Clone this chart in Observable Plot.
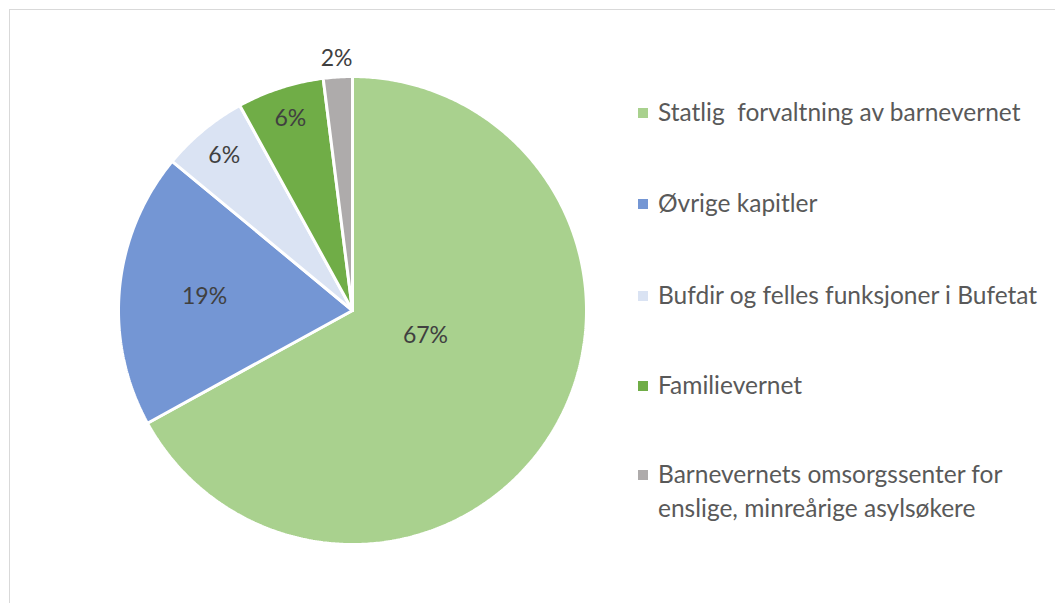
<!DOCTYPE html>
<html>
<head>
<meta charset="utf-8">
<script src="https://cdn.jsdelivr.net/npm/d3@7"></script>
<script src="https://cdn.jsdelivr.net/npm/@observablehq/plot@0.6"></script>
<style>
  html, body { margin: 0; padding: 0; background: #fff; }
  #frame { position: relative; width: 1055px; height: 603px; overflow: hidden; font-family: Lato, "Open Sans", sans-serif; }
  #border { position: absolute; left: 9px; top: 9px; width: 1100px; height: 700px; border-left: 1px solid #D9D9D9; border-top: 1px solid #D9D9D9; }
  #chart { position: absolute; left: 0; top: 0; }
  #legend { position: absolute; left: 638px; top: 0; color: #595959; font-size: 24.5px; }
  .item { position: absolute; left: 0; display: flex; align-items: flex-start; white-space: nowrap; }
  .sw { width: 10px; height: 10px; margin-top: 13px; margin-right: 10px; flex: none; }
  .lab { line-height: 34px; margin-top: 0; white-space: pre; }
</style>
</head>
<body>
<div id="frame">
  <div id="border"></div>
  <div id="chart"></div>
  <div id="legend"></div>
</div>
<script>
const categories = [
  "Statlig  forvaltning av barnevernet",
  "Øvrige kapitler",
  "Bufdir og felles funksjoner i Bufetat",
  "Familievernet",
  "Barnevernets omsorgssenter for\nenslige, minreårige asylsøkere"
];
const shares = [67, 19, 6, 6, 2];
const valueLabels = ["67%", "19%", "6%", "6%", "2%"];
const colors = ["#A9D18E", "#7496D4", "#DAE3F3", "#70AD47", "#AEABAB"];

const pie = d3.pie().sort(null).value(d => d.share)(
  categories.map((name, i) => ({name, share: shares[i], label: valueLabels[i]}))
);

// slice outlines in unit-circle space (y up, clockwise from 12 o'clock)
const polys = [];
pie.forEach(s => {
  polys.push({name: s.data.name, x: 0, y: 0});
  const n = Math.max(2, Math.ceil((s.endAngle - s.startAngle) / (Math.PI / 360)));
  for (let k = 0; k <= n; k++) {
    const a = s.startAngle + (s.endAngle - s.startAngle) * k / n;
    polys.push({name: s.data.name, x: Math.sin(a), y: Math.cos(a)});
  }
  polys.push({name: s.data.name, x: 0, y: 0});
});

function labelRadius(share) {
  if (share > 50) return 0.33;
  if (share > 10) return 0.635;
  if (share > 3) return 0.86;
  return 1.08;
}
function labelAngleShift(share) {
  return share > 50 ? -0.2 : 0;
}
const labelPts = pie.map(s => {
  const a = (s.startAngle + s.endAngle) / 2 + labelAngleShift(s.data.share);
  const r = labelRadius(s.data.share);
  return {label: s.data.label, x: r * Math.sin(a), y: r * Math.cos(a)};
});

const cx = 352, cy = 310, R = 234;
const chart = Plot.plot({
  width: 620,
  height: 603,
  margin: 0,
  x: {domain: [-1, 1], range: [cx - R, cx + R], axis: null},
  y: {domain: [-1, 1], range: [cy + R, cy - R], axis: null},
  color: {domain: categories, range: colors},
  style: {background: "transparent", fontFamily: "Lato, 'Open Sans', sans-serif"},
  marks: [
    Plot.line(polys, {x: "x", y: "y", z: "name", fill: "name", stroke: "white", strokeWidth: 3, strokeLinejoin: "miter", curve: "linear"}),
    Plot.text(labelPts, {x: "x", y: "y", text: "label", fontSize: 23, fill: "#404040"})
  ]
});
document.getElementById("chart").appendChild(chart);

const legendTops = [112, 203, 295, 385, 474];
const legend = document.getElementById("legend");
categories.forEach((name, i) => {
  const it = document.createElement("div");
  it.className = "item";
  it.style.top = (legendTops[i] - 17) + "px";
  const sw = document.createElement("div");
  sw.className = "sw";
  sw.style.background = colors[i];
  const lab = document.createElement("div");
  lab.className = "lab";
  lab.textContent = name;
  it.appendChild(sw); it.appendChild(lab);
  legend.appendChild(it);
});
</script>
</body>
</html>
